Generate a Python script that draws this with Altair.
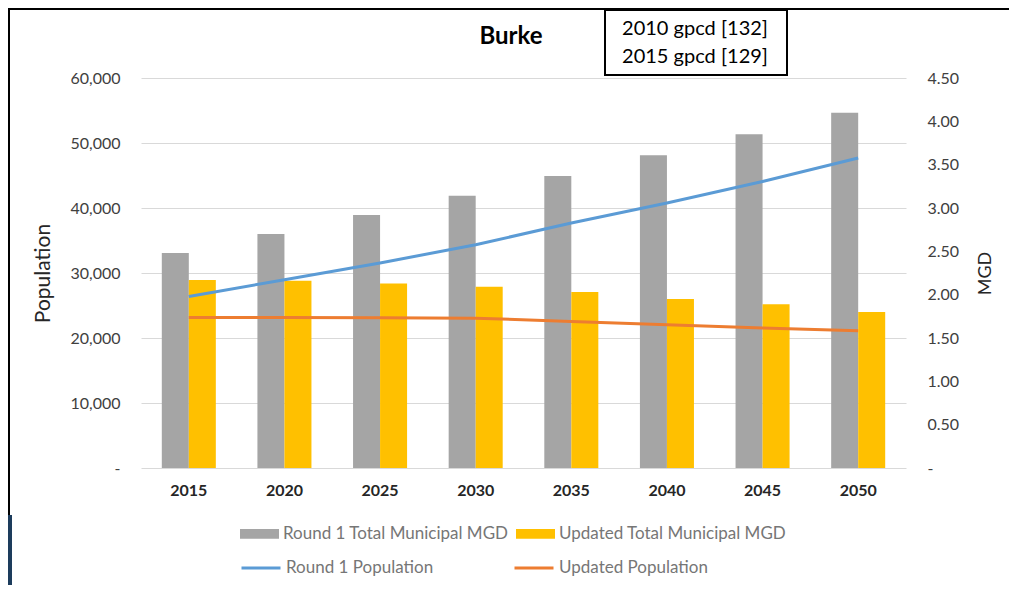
import altair as alt
import pandas as pd

# ---- data ----
years = [2015, 2020, 2025, 2030, 2035, 2040, 2045, 2050]
round1_mgd = [2.48, 2.70, 2.92, 3.14, 3.37, 3.61, 3.85, 4.10]
updated_mgd = [2.17, 2.16, 2.13, 2.09, 2.03, 1.95, 1.89, 1.80]
round1_pop = [26400, 28970, 31540, 34350, 37690, 40770, 44090, 47690]
updated_pop = [23170, 23170, 23130, 23050, 22550, 22050, 21540, 21120]

bar_series = ["Round 1 Total Municipal MGD", "Updated Total Municipal MGD"]
line_series = ["Round 1 Population", "Updated Population"]
bar_colors = ["#a5a5a5", "#ffc000"]
line_colors = ["#5b9bd5", "#ed7d31"]

chart_title = ["Burke"]
note_lines = ["2010 gpcd [132]", "2015 gpcd [129]"]
left_ticks = [0, 10000, 20000, 30000, 40000, 50000, 60000]
right_ticks = [0, 0.5, 1.0, 1.5, 2.0, 2.5, 3.0, 3.5, 4.0, 4.5]

FONT = "Lato"

bar_df = pd.DataFrame({
    "Year": years * 2,
    "Series": [bar_series[0]] * len(years) + [bar_series[1]] * len(years),
    "MGD": round1_mgd + updated_mgd,
})
line_df = pd.DataFrame({
    "Year": years * 2,
    "PopSeries": [line_series[0]] * len(years) + [line_series[1]] * len(years),
    "Population": round1_pop + updated_pop,
})

x_axis = alt.Axis(
    title=None, labelFont=FONT, labelFontSize=16, labelFontWeight="bold",
    labelColor="#262626", labelAngle=0, ticks=False, tickSize=0, domain=False,
    labelPadding=14, grid=False,
)
x_scale = alt.Scale(paddingInner=0.435, paddingOuter=0.2175)

bars = alt.Chart(bar_df).mark_bar().encode(
    x=alt.X("Year:O", scale=x_scale, axis=x_axis),
    xOffset=alt.XOffset("Series:N", sort=bar_series,
                        scale=alt.Scale(paddingInner=0, paddingOuter=0)),
    y=alt.Y("MGD:Q", scale=alt.Scale(domain=[0, 4.5], nice=False),
            axis=alt.Axis(orient="right", values=right_ticks,
                          labelExpr="datum.value === 0 ? '-' : format(datum.value, '.2f')",
                          grid=False, ticks=False, tickSize=0, domain=False,
                          labelPadding=21, labelFont=FONT, labelFontSize=16,
                          labelColor="#404040", title="MGD", titleFont=FONT,
                          titleFontSize=18, titleFontWeight="normal",
                          titleColor="#262626", titleAngle=270, titleBaseline="top",
                          titleX=70, titleY=195)),
    color=alt.Color("Series:N",
                    scale=alt.Scale(domain=bar_series, range=bar_colors),
                    legend=alt.Legend(orient="none", legendX=99, legendY=436,
                                      direction="horizontal", title=None,
                                      symbolType="M-1,-0.25H1V0.25H-1Z",
                                      symbolSize=1521, symbolStrokeWidth=0,
                                      labelFont=FONT, labelFontSize=17,
                                      labelColor="#767676", labelOffset=4,
                                      columnPadding=7, labelLimit=400)),
)

lines = alt.Chart(line_df).mark_line(strokeWidth=3).encode(
    x=alt.X("Year:O", scale=x_scale, axis=x_axis),
    y=alt.Y("Population:Q", scale=alt.Scale(domain=[0, 60000], nice=False),
            axis=alt.Axis(orient="left", values=left_ticks,
                          labelExpr="datum.value === 0 ? '-' : format(datum.value, ',')",
                          grid=True, gridColor="#d9d9d9", gridWidth=1,
                          ticks=False, tickSize=0, domain=False,
                          labelPadding=21, labelFont=FONT, labelFontSize=16,
                          labelColor="#404040", title="Population",
                          titleFont=FONT, titleFontSize=21,
                          titleFontWeight="normal", titleColor="#262626",
                          titleX=-88, titleY=195)),
    color=alt.Color("PopSeries:N",
                    scale=alt.Scale(domain=line_series, range=line_colors),
                    legend=alt.Legend(orient="none", legendX=99, legendY=469,
                                      direction="horizontal", title=None,
                                      symbolType="stroke", symbolSize=1521,
                                      symbolStrokeWidth=3,
                                      labelFont=FONT, labelFontSize=17,
                                      labelColor="#767676", labelOffset=4,
                                      columnPadding=74, labelLimit=400)),
)

one = pd.DataFrame({"t": chart_title})

frame_top = alt.Chart(one).mark_rule(color="black", strokeWidth=2).encode(
    x=alt.value(-133), x2=alt.value(868), y=alt.value(-69))
frame_left = alt.Chart(one).mark_rule(color="black", strokeWidth=2).encode(
    x=alt.value(-132), y=alt.value(-70), y2=alt.value(437))
frame_strip = alt.Chart(one).mark_rule(color="#1d3c5c", strokeWidth=4).encode(
    x=alt.value(-131), y=alt.value(437), y2=alt.value(507))

note_box = alt.Chart(one).mark_rect(fill="white", stroke="black", strokeWidth=2).encode(
    x=alt.value(464), x2=alt.value(646), y=alt.value(-68), y2=alt.value(-3))
note_text = alt.Chart(one).mark_text(
    font=FONT, fontSize=20, color="black", align="center", baseline="middle",
    lineHeight=28,
).encode(x=alt.value(554), y=alt.value(-49), text=alt.value(note_lines))

title_text = alt.Chart(one).mark_text(
    font=FONT, fontSize=24, fontWeight="bold", color="black",
    align="center", baseline="middle",
).encode(x=alt.value(370), y=alt.value(-41), text="t:N")

chart = alt.layer(
    bars, lines, frame_top, frame_left, frame_strip, note_box, note_text, title_text
).resolve_scale(
    y="independent", color="independent"
).properties(
    width=765, height=390,
    autosize=alt.AutoSizeParams(type="none"),
    padding={"left": 133, "top": 70, "right": 103, "bottom": 117},
    background="white",
).configure_view(stroke=None)

chart.save("out.html", embed_options={"renderer": "svg", "actions": False})
